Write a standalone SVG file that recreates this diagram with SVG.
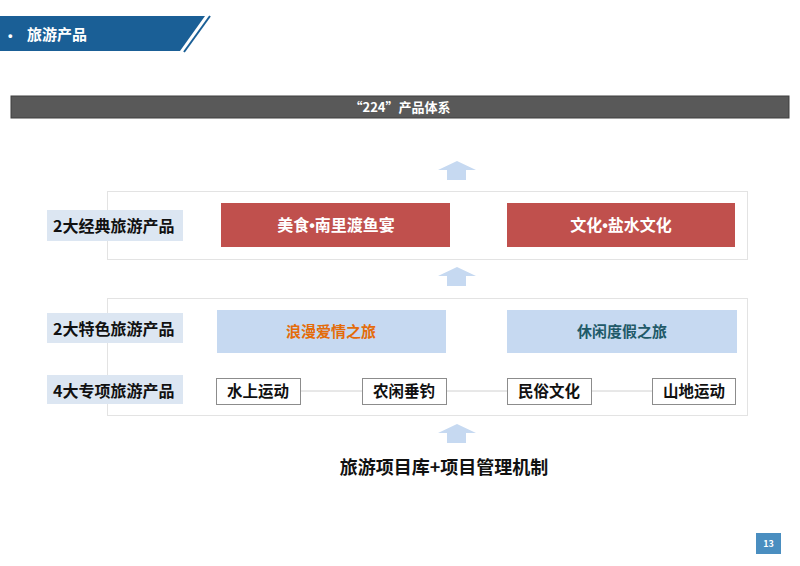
<svg xmlns="http://www.w3.org/2000/svg" width="800" height="566" viewBox="0 0 800 566">
<style>
text{font-family:"Noto Sans CJK SC","Noto Sans",sans-serif;font-weight:bold;}
.bul{font-family:"Liberation Sans",sans-serif;}
.lbl{fill:#dce6f2;}
.lbltxt{font-size:16px;fill:#111;}
.red{fill:#c0504d;}
.redtxt{font-size:16px;fill:#fff;text-anchor:middle;}
.lb{fill:#c6d9f1;}
.small{fill:#fff;stroke:#8c8c8c;stroke-width:1;}
.smalltxt{font-size:15.5px;fill:#111;text-anchor:middle;}
.panel{fill:#fff;stroke:#e3e3e3;stroke-width:1;}
.arrow{fill:#c6d9f1;}
</style>
<rect width="800" height="566" fill="#fff"/>
<g id="header">
<polygon points="0,16 205,16 180,51 0,51" fill="#1a5f96"/>
<line x1="210" y1="16" x2="184" y2="52" stroke="#1a5f96" stroke-width="2"/>
<text class="bul" x="8" y="40" font-size="13" fill="#fff">•</text>
<text x="27" y="40" font-size="15" fill="#fff">旅游产品</text>
</g>
<g id="title-bar">
<rect x="11" y="96" width="778" height="22" fill="#595959" stroke="#3f3f3f" stroke-width="1"/>
<text x="400" y="112" font-size="13" fill="#fff" text-anchor="middle">“224”产品体系</text>
</g>
<g id="connectors">
<polygon class="arrow" points="438,170 457,161 476,170 466,170 466,180 447,180 447,170"/>
<polygon class="arrow" points="438,276 457,267 476,276 466,276 466,286 447,286 447,276"/>
<polygon class="arrow" points="438,433 457,424 476,433 466,433 466,443 447,443 447,433"/>
</g>
<g id="panel-classic">
<rect class="panel" x="107.5" y="191.5" width="640" height="68"/>
<rect class="lbl" x="47" y="210" width="136" height="31"/>
<text class="lbltxt" x="53" y="232">2大经典旅游产品</text>
</g>
<g id="node-meishi">
<rect class="red" x="221" y="203" width="229" height="44"/>
<text class="redtxt" x="336" y="231">美食<tspan class="bul">•</tspan>南里渡鱼宴</text>
</g>
<g id="node-wenhua">
<rect class="red" x="507" y="203" width="228" height="44"/>
<text class="redtxt" x="621" y="231">文化<tspan class="bul">•</tspan>盐水文化</text>
</g>
<g id="panel-feature">
<rect class="panel" x="107.5" y="298.5" width="640" height="117"/>
<rect class="lbl" x="47" y="313" width="136" height="30"/>
<text class="lbltxt" x="53" y="335">2大特色旅游产品</text>
<rect class="lbl" x="47" y="375" width="136" height="29"/>
<text class="lbltxt" x="53" y="397">4大专项旅游产品</text>
<line x1="300" y1="391" x2="652" y2="391" stroke="#d0d0d0" stroke-width="1"/>
</g>
<g id="node-langman">
<rect class="lb" x="217" y="310" width="229" height="43"/>
<text x="331" y="337" font-size="15" fill="#e46c0a" text-anchor="middle">浪漫爱情之旅</text>
</g>
<g id="node-xiuxian">
<rect class="lb" x="507" y="310" width="230" height="43"/>
<text x="622" y="337" font-size="15" fill="#215968" text-anchor="middle">休闲度假之旅</text>
</g>
<g id="node-shuishang">
<rect class="small" x="216.5" y="378.5" width="84" height="26"/>
<text class="smalltxt" x="258" y="397">水上运动</text>
</g>
<g id="node-nongxian">
<rect class="small" x="362.5" y="378.5" width="84" height="26"/>
<text class="smalltxt" x="404" y="397">农闲垂钓</text>
</g>
<g id="node-minsu">
<rect class="small" x="507.5" y="378.5" width="84" height="26"/>
<text class="smalltxt" x="549" y="397">民俗文化</text>
</g>
<g id="node-shandi">
<rect class="small" x="652.5" y="378.5" width="83" height="26"/>
<text class="smalltxt" x="694" y="397">山地运动</text>
</g>
<g id="base">
<text x="444" y="474" font-size="18" fill="#111" text-anchor="middle">旅游项目库+项目管理机制</text>
</g>
<g id="page-number">
<rect x="756" y="533" width="25" height="21" fill="#4a8ec0"/>
<text x="768.5" y="547" font-size="9" fill="#fff" text-anchor="middle" font-weight="normal">13</text>
</g>
</svg>
